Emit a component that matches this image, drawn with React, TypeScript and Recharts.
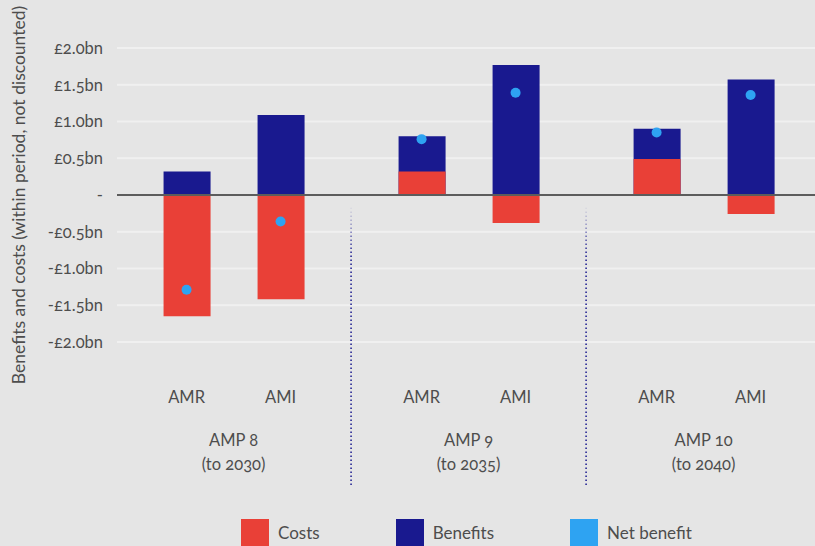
import {
  ComposedChart,
  Bar,
  Line,
  XAxis,
  YAxis,
  CartesianGrid,
  ReferenceLine,
  Legend,
} from "recharts";

// slot positions on the x scale (one slot = half the AMR/AMI spacing)
const CATEGORY_X = [1, 3, 6, 8, 11, 13];
const CATEGORIES = ["AMR", "AMI", "AMR", "AMI", "AMR", "AMI"];
const COSTS = [-1.65, -1.42, 0.32, -0.38, 0.49, -0.26];
const BENEFITS = [0.32, 1.09, 0.8, 1.77, 0.9, 1.57];
const NET = [-1.29, -0.36, 0.76, 1.39, 0.85, 1.36];

const GROUP_X = [2, 7, 12];
const GROUPS = ["AMP 8", "AMP 9", "AMP 10"];
const PERIODS = ["(to 2030)", "(to 2035)", "(to 2040)"];
const DIVIDER_X = [4.5, 9.5];

const Y_TICKS = [-2, -1.5, -1, -0.5, 0, 0.5, 1, 1.5, 2];

const RED = "#e94037";
const NAVY = "#19198f";
const LIGHT_BLUE = "#2ea3f2";
const TEXT = "#4d4d4d";
const FONT = "Lato, 'Open Sans', sans-serif";

const data = CATEGORY_X.map((x, i) => ({
  x,
  name: CATEGORIES[i],
  costs: COSTS[i],
  benefits: BENEFITS[i],
  net: NET[i],
}));

const X_TICKS = [...CATEGORY_X, ...GROUP_X].sort((a, b) => a - b);

const formatBn = (v: number) => {
  if (v === 0) return "-";
  const s = `£${Math.abs(v).toFixed(1)}bn`;
  return v < 0 ? `-${s}` : s;
};

const XTick = (props: any) => {
  const { x, y, payload } = props;
  const ci = CATEGORY_X.indexOf(payload.value);
  if (ci >= 0) {
    return (
      <text x={x} y={y + 53} textAnchor="middle" dominantBaseline="central"
        fill={TEXT} fontSize={16.5} fontFamily={FONT} style={{ fontFeatureSettings: "'onum'" }}>
        {CATEGORIES[ci]}
      </text>
    );
  }
  const gi = GROUP_X.indexOf(payload.value);
  if (gi < 0) return null;
  return (
    <g fill={TEXT} fontSize={16.5} fontFamily={FONT} style={{ fontFeatureSettings: "'onum'" }}>
      <text x={x} y={y + 96} textAnchor="middle" dominantBaseline="central">
        {GROUPS[gi]}
      </text>
      <text x={x} y={y + 120} textAnchor="middle" dominantBaseline="central">
        {PERIODS[gi]}
      </text>
    </g>
  );
};

const AxisTitle = (props: any) => {
  const { viewBox } = props;
  const cx = viewBox.x + 18;
  const cy = viewBox.y + viewBox.height / 2;
  return (
    <text x={cx} y={cy} transform={`rotate(-90, ${cx}, ${cy})`} textAnchor="middle"
      dominantBaseline="central" fill={TEXT} fontSize={17.5} fontFamily={FONT}>
      Benefits and costs (within period, not discounted)
    </text>
  );
};

const LEGEND_ITEMS = [
  { label: "Costs", color: RED },
  { label: "Benefits", color: NAVY },
  { label: "Net benefit", color: LIGHT_BLUE },
];

const LegendContent = () => (
  <div style={{ display: "flex", paddingLeft: 241, gap: 76, fontFamily: FONT, fontSize: 17, color: TEXT }}>
    {LEGEND_ITEMS.map((item) => (
      <div key={item.label} style={{ display: "flex", alignItems: "flex-start", gap: 9 }}>
        <span style={{ width: 28, height: 28, backgroundColor: item.color, display: "inline-block" }} />
        <span style={{ lineHeight: "28px" }}>{item.label}</span>
      </div>
    ))}
  </div>
);

export default function App() {
  return (
    <div style={{ position: "absolute", left: 0, top: 0, width: 815, height: 546, background: "#e5e5e5", overflow: "hidden" }}>
      <ComposedChart
        width={815}
        height={546}
        data={data}
        margin={{ top: 48, right: 0, bottom: 54, left: 0 }}
        barGap={-47}
      >
        <defs>
          <linearGradient id="dividerFade" gradientUnits="userSpaceOnUse" x1="0" y1="205" x2="0" y2="255">
            <stop offset="0" stopColor={NAVY} stopOpacity={0} />
            <stop offset="1" stopColor={NAVY} stopOpacity={1} />
          </linearGradient>
        </defs>
        <CartesianGrid vertical={false} stroke="#f0f0f0" strokeWidth={2} />
        <XAxis
          type="number"
          dataKey="x"
          domain={[-0.48, 14.37]}
          ticks={X_TICKS}
          interval={0}
          allowDataOverflow
          axisLine={false}
          tickLine={false}
          tickSize={0}
          height={150}
          tick={<XTick />}
        />
        <YAxis
          domain={[-2, 2]}
          ticks={Y_TICKS}
          interval={0}
          width={117}
          axisLine={false}
          tickLine={false}
          tickMargin={8}
          tickFormatter={formatBn}
          tick={{ fill: TEXT, fontSize: 16.5, fontFamily: FONT, style: { fontFeatureSettings: "'onum'" } } as any}
          label={{ content: <AxisTitle /> } as any}
        />
        <Legend
          verticalAlign="middle"
          align="center"
          layout="horizontal"
          wrapperStyle={{ top: 519, left: 0, width: 815, height: 30 }}
          content={<LegendContent />}
        />
        <Bar dataKey="benefits" fill={NAVY} barSize={47} isAnimationActive={false} />
        <Bar dataKey="costs" fill={RED} barSize={47} isAnimationActive={false} />
        <ReferenceLine y={0} stroke="#5c5c5c" strokeWidth={2} />
        {DIVIDER_X.map((dx) => (
          <ReferenceLine
            key={dx}
            segment={[{ x: dx, y: -0.17 }, { x: dx, y: -3.96 }]}
            ifOverflow="visible"
            stroke="url(#dividerFade)"
            strokeWidth={1.5}
            strokeDasharray="1.5 2.5"
          />
        ))}
        <Line
          dataKey="net"
          stroke="none"
          dot={{ r: 5, fill: LIGHT_BLUE, stroke: "none" }}
          activeDot={false}
          isAnimationActive={false}
        />
      </ComposedChart>
    </div>
  );
}
